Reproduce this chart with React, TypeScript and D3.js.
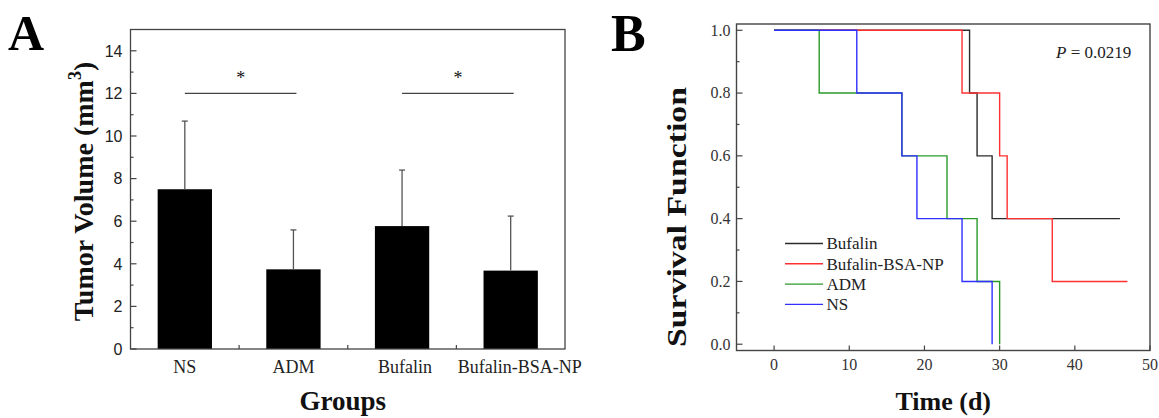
import React from "react";
import * as d3 from "d3";

// ---------- Panel A data ----------
const groups = ["NS", "ADM", "Bufalin", "Bufalin-BSA-NP"];
const tumorMeans = [7.5, 3.74, 5.77, 3.68];
const tumorErrTop = [10.7, 5.59, 8.4, 6.24];
const yTicksA = [0, 2, 4, 6, 8, 10, 12, 14];
const yMinorA = [1, 3, 5, 7, 9, 11, 13];
const sigPairs: [number, number][] = [[0, 1], [2, 3]];
const sigLevel = 12;

// ---------- Panel B data ----------
const seriesNames = ["Bufalin", "Bufalin-BSA-NP", "ADM", "NS"];
const seriesColors = ["#2b2b2b", "#ff3030", "#2a9a2a", "#3030ff"];
const bufalinTimes = [0, 26, 27, 29, 46];
const bufalinSurv = [1.0, 0.8, 0.6, 0.4, 0.4];
const bsaTimes = [0, 25, 30, 31, 37, 47];
const bsaSurv = [1.0, 0.8, 0.6, 0.4, 0.2, 0.2];
const admTimes = [0, 6, 17, 23, 27, 30];
const admSurv = [1.0, 0.8, 0.6, 0.4, 0.2, 0.0];
const nsTimes = [0, 11, 17, 19, 25, 29];
const nsSurv = [1.0, 0.8, 0.6, 0.4, 0.2, 0.0];
const xTicksB = [0, 10, 20, 30, 40, 50];
const yTicksB = [0, 0.2, 0.4, 0.6, 0.8, 1.0];
const yMinorB = [0.1, 0.3, 0.5, 0.7, 0.9];

const serif = "'Liberation Serif', 'Times New Roman', serif";
const sans = "'Liberation Sans', Arial, sans-serif";
const axisColor = "#444";

export default function App() {
  // Panel A scales
  const aL = 130.5, aR = 565, aT = 29.5, aB = 349;
  const xA = d3.scaleBand<string>().domain(groups).range([aL, aR]).padding(0);
  const yA = d3.scaleLinear().domain([0, 15]).range([aB, aT]);
  const bw = xA.bandwidth() * 0.5;
  const cx = (g: string) => (xA(g) as number) + xA.bandwidth() / 2;

  // Panel B scales
  const bL = 736.5, bR = 1150, bT = 24, bB = 350.5;
  const xB = d3.scaleLinear().domain([-5, 50]).range([bL, bR]);
  const yB = d3.scaleLinear().domain([-0.02, 1.02]).range([bB, bT]);
  const line = d3
    .line<[number, number]>()
    .x((d) => xB(d[0]))
    .y((d) => yB(d[1]))
    .curve(d3.curveStepAfter);
  const curves = [
    d3.zip(bufalinTimes, bufalinSurv) as [number, number][],
    d3.zip(bsaTimes, bsaSurv) as [number, number][],
    d3.zip(admTimes, admSurv) as [number, number][],
    d3.zip(nsTimes, nsSurv) as [number, number][],
  ];

  return (
    <svg
      width={1159}
      height={418}
      style={{ position: "absolute", left: 0, top: 0, background: "#fff" }}
    >
      <rect x={0} y={0} width={1159} height={418} fill="#fff" />
      {/* ===== Panel A ===== */}
      <text x={8} y={50} fontFamily={serif} fontWeight="bold" fontSize={50} fill="#000">
        A
      </text>
      {/* bars */}
      {groups.map((g, i) => (
        <rect
          key={g}
          x={cx(g) - bw / 2}
          y={yA(tumorMeans[i])}
          width={bw}
          height={yA(0) - yA(tumorMeans[i])}
          fill="#000"
        />
      ))}
      {/* error bars */}
      {groups.map((g, i) => (
        <g key={g + "e"} stroke="#555" strokeWidth={1.3}>
          <line x1={cx(g)} x2={cx(g)} y1={yA(tumorMeans[i])} y2={yA(tumorErrTop[i])} />
          <line x1={cx(g) - 3} x2={cx(g) + 3} y1={yA(tumorErrTop[i])} y2={yA(tumorErrTop[i])} />
        </g>
      ))}
      {/* significance */}
      {sigPairs.map(([a, b], k) => {
        const x1 = cx(groups[a]);
        const x2 = cx(groups[b]) + 3;
        return (
          <g key={"s" + k}>
            <line x1={x1} x2={x2} y1={yA(sigLevel)} y2={yA(sigLevel)} stroke="#444" strokeWidth={1.2} />
            <text
              x={(x1 + x2) / 2}
              y={yA(sigLevel) - 9}
              textAnchor="middle"
              fontFamily={serif}
              fontSize={18}
              fill="#111"
            >
              *
            </text>
          </g>
        );
      })}
      {/* box */}
      <rect x={aL} y={aT} width={aR - aL} height={aB - aT} fill="none" stroke={axisColor} strokeWidth={1.3} />
      {/* y ticks */}
      {yTicksA.map((t) => (
        <g key={"ya" + t}>
          <line x1={aL} x2={aL + 6} y1={yA(t)} y2={yA(t)} stroke={axisColor} strokeWidth={1.2} />
          <text
            x={aL - 8}
            y={yA(t)}
            dy="0.36em"
            textAnchor="end"
            fontFamily={sans}
            fontSize={16}
            fill="#222"
          >
            {t}
          </text>
        </g>
      ))}
      {yMinorA.map((t) => (
        <line key={"yam" + t} x1={aL} x2={aL + 3} y1={yA(t)} y2={yA(t)} stroke={axisColor} strokeWidth={1.2} />
      ))}
      {/* x boundary ticks */}
      {groups.slice(1).map((g) => (
        <line
          key={"xa" + g}
          x1={xA(g) as number}
          x2={xA(g) as number}
          y1={aB}
          y2={aB - 4}
          stroke={axisColor}
          strokeWidth={1.2}
        />
      ))}
      {groups.map((g) => (
        <text
          key={"xl" + g}
          x={cx(g) + (g === "Bufalin-BSA-NP" ? 9 : g === "Bufalin" ? 3 : 0)}
          y={373}
          textAnchor="middle"
          fontFamily={serif}
          fontSize={18}
          fill="#222"
        >
          {g}
        </text>
      ))}
      <text
        x={(aL + aR) / 2 - 5}
        y={410}
        textAnchor="middle"
        fontFamily={serif}
        fontWeight="bold"
        fontSize={27}
        fill="#111"
      >
        Groups
      </text>
      <text
        transform={`translate(93,${191.5}) rotate(-90)`}
        textAnchor="middle"
        fontFamily={serif}
        fontWeight="bold"
        fontSize={28}
        fill="#111"
      >
        Tumor Volume (mm<tspan fontSize={18} dy={-12}>3</tspan>
        <tspan dy={12}>)</tspan>
      </text>

      {/* ===== Panel B ===== */}
      <text x={611} y={51} fontFamily={serif} fontWeight="bold" fontSize={52} fill="#000">
        B
      </text>
      {/* curves */}
      {curves.map((c, i) => (
        <path key={"c" + i} d={line(c) as string} fill="none" stroke={seriesColors[i]} strokeWidth={1.4} />
      ))}
      {/* box */}
      <rect x={bL} y={bT} width={bR - bL} height={bB - bT} fill="none" stroke={axisColor} strokeWidth={1.4} />
      {yTicksB.map((t) => (
        <g key={"yb" + t}>
          <line x1={bL} x2={bL + 6} y1={yB(t)} y2={yB(t)} stroke={axisColor} strokeWidth={1.2} />
          <text
            x={bL - 6}
            y={yB(t)}
            dy="0.33em"
            textAnchor="end"
            fontFamily={serif}
            fontSize={16}
            fill="#333"
          >
            {t.toFixed(1)}
          </text>
        </g>
      ))}
      {yMinorB.map((t) => (
        <line key={"ybm" + t} x1={bL} x2={bL + 3} y1={yB(t)} y2={yB(t)} stroke={axisColor} strokeWidth={1.2} />
      ))}
      {xTicksB.map((t) => (
        <g key={"xb" + t}>
          <line x1={xB(t)} x2={xB(t)} y1={bB} y2={bB - 5} stroke={axisColor} strokeWidth={1.2} />
          <text
            x={xB(t)}
            y={370}
            textAnchor="middle"
            fontFamily={serif}
            fontSize={16}
            fill="#333"
          >
            {t}
          </text>
        </g>
      ))}
      {/* legend */}
      {seriesNames.map((n, i) => {
        const yy = 243.5 + i * 20.3;
        return (
          <g key={"lg" + n}>
            <line x1={785} x2={823} y1={yy} y2={yy} stroke={seriesColors[i]} strokeWidth={1.4} />
            <text x={826.5} y={yy + 5.7} fontFamily={serif} fontSize={17} fill="#222">
              {n}
            </text>
          </g>
        );
      })}
      <text x={1056} y={58} fontFamily={serif} fontSize={17} fill="#222">
        <tspan fontStyle="italic">P</tspan> = 0.0219
      </text>
      <text
        x={(bL + bR) / 2}
        y={410}
        textAnchor="middle"
        fontFamily={serif}
        fontWeight="bold"
        fontSize={26}
        fill="#111"
      >
        Time (d)
      </text>
      <text
        transform={`translate(686,217) rotate(-90)`}
        textAnchor="middle"
        fontFamily={serif}
        fontWeight="bold"
        fontSize={28}
        textLength={260}
        lengthAdjust="spacingAndGlyphs"
        fill="#111"
      >
        Survival Function
      </text>
    </svg>
  );
}
